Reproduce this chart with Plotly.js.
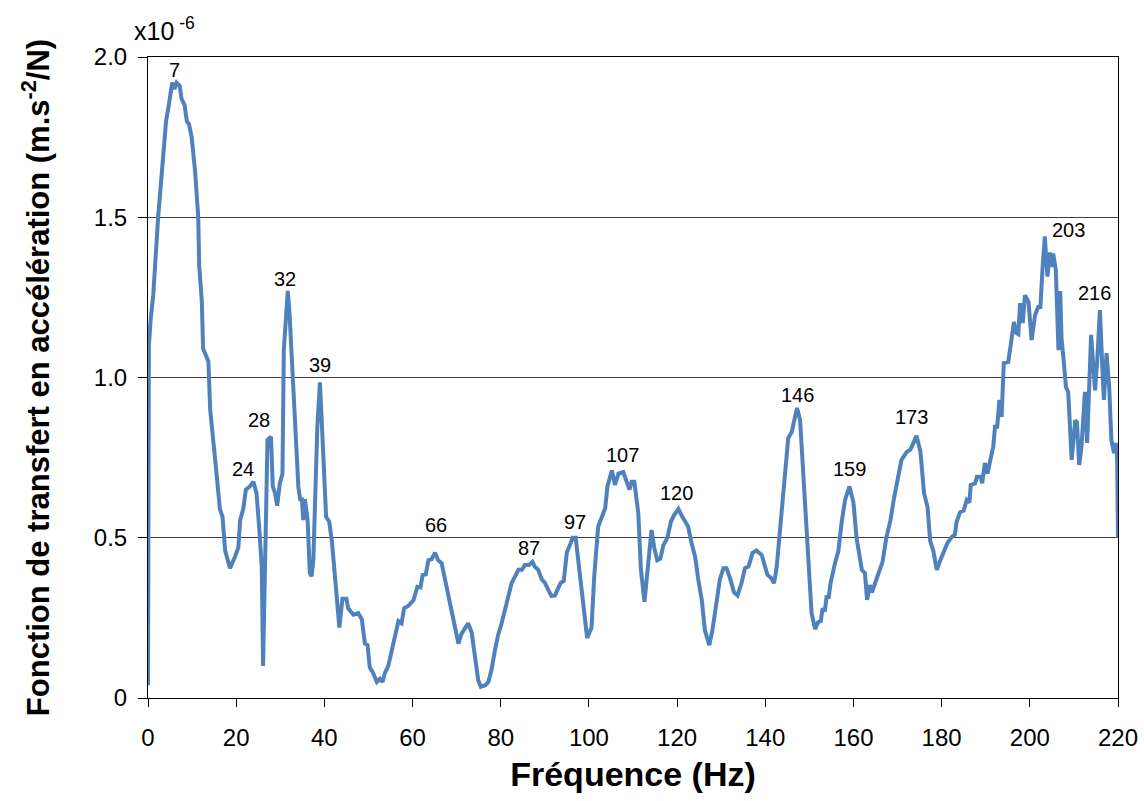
<!DOCTYPE html>
<html>
<head>
<meta charset="utf-8">
<script src="https://cdn.plot.ly/plotly-3.0.1.min.js"></script>
<style>html,body{margin:0;padding:0;background:#fff;}#chart{width:1144px;height:801px;}</style>
</head>
<body>
<div id="chart"></div>
<script>
// Frequency (Hz)
const freq = [
0,0.2,0.6,1.2,2.3,3.1,3.7,4.1,4.6,5.2,5.5,6.0,6.5,7.2,7.6,8.3,8.8,9.3,9.9,10.7,
11.4,11.6,12.2,12.5,13.7,14.1,15.2,15.4,16.3,16.9,17.5,18.6,19.7,20.5,20.9,21.6,22.2,23.1,23.9,24.6,
25.2,25.8,26.1,26.6,27.1,27.9,28.3,28.8,29.3,29.9,30.5,30.8,31.3,31.7,32.1,32.6,33.1,34.1,34.5,34.9,
35.2,35.6,36.2,36.7,37.1,37.5,37.9,38.4,39.0,39.4,39.8,40.4,41.1,41.7,42.4,43.4,44.1,45.0,45.4,46.6,
47.7,48.5,49.2,49.8,50.3,51.0,51.9,52.6,53.2,53.7,54.5,55.3,56.0,56.8,57.5,58.1,59.0,60.2,61.1,61.8,
62.3,63.0,63.6,64.3,65.1,65.8,66.6,67.4,68.1,68.9,69.6,70.4,71.1,71.9,72.6,73.4,74.2,74.9,75.5,76.5,
77.2,77.9,78.7,79.4,80.2,81.0,81.7,82.5,83.2,84.0,84.8,85.5,86.4,87.2,87.7,88.5,89.3,90.0,90.8,91.5,
92.3,93.1,93.6,94.3,95.0,95.7,96.3,97.0,97.8,98.7,99.6,100.6,101.2,102.1,102.9,103.7,104.2,105.2,105.9,106.7,
107.8,108.6,109.2,109.7,110.3,111.2,111.8,112.6,113.5,114.2,114.8,115.5,116.2,116.9,117.8,118.6,119.3,120.3,121.0,121.8,
122.5,123.3,124.1,124.8,125.6,126.3,127.3,128.0,128.8,129.7,130.5,131.2,132.0,132.9,133.7,134.6,135.4,136.2,137.1,138.0,
139.2,139.9,140.5,141.3,142.0,142.6,143.2,143.7,144.5,145.2,146.0,146.7,147.2,147.9,148.3,149.0,150.0,150.5,151.3,152.0,
152.6,153.0,153.5,153.9,154.4,154.8,155.8,156.6,157.3,158.1,159.1,160.0,160.7,161.3,161.9,162.6,163.1,163.7,164.2,164.9,
165.6,166.6,167.5,168.4,169.2,170.2,170.9,172.1,172.9,173.6,174.3,175.2,176.0,176.8,177.4,178.1,178.9,179.7,180.4,181.3,
182.3,183.0,183.4,184.2,185.0,185.7,186.3,186.6,187.6,188.0,188.8,189.2,189.8,190.4,191.0,191.7,192.1,192.6,193.1,193.6,
194.1,195.1,195.6,196.4,197.0,197.4,197.8,198.4,198.9,199.7,200.4,201.2,201.9,202.4,202.9,203.4,204.0,204.6,205.0,205.3,
205.9,206.5,206.9,207.2,207.6,208.2,208.7,209.5,210.3,210.7,211.2,211.7,212.5,213.0,213.9,214.4,214.8,215.3,215.9,216.5,
216.8,217.4,218.0,218.5,219.1,219.5,219.8,220
];
// Transfer function amplitude (x1e-6 m.s^-2/N)
const amp = [
0.04,1.10,1.18,1.26,1.50,1.64,1.75,1.80,1.84,1.90,1.92,1.90,1.92,1.91,1.87,1.85,1.80,1.79,1.75,1.64,
1.50,1.35,1.24,1.09,1.05,0.90,0.77,0.72,0.59,0.565,0.46,0.405,0.44,0.47,0.555,0.59,0.65,0.66,0.675,0.64,
0.535,0.41,0.10,0.40,0.805,0.815,0.66,0.64,0.60,0.67,0.70,1.085,1.20,1.27,1.20,1.085,0.93,0.66,0.62,0.62,
0.555,0.62,0.555,0.39,0.38,0.43,0.62,0.845,0.985,0.845,0.74,0.565,0.55,0.49,0.38,0.22,0.31,0.31,0.28,0.26,
0.265,0.245,0.17,0.165,0.095,0.08,0.05,0.06,0.05,0.077,0.10,0.15,0.18,0.24,0.233,0.28,0.287,0.305,0.347,0.345,
0.384,0.386,0.43,0.433,0.453,0.43,0.42,0.37,0.32,0.265,0.22,0.17,0.20,0.22,0.233,0.205,0.13,0.055,0.035,0.04,
0.05,0.087,0.15,0.196,0.233,0.28,0.32,0.36,0.378,0.40,0.40,0.415,0.415,0.425,0.41,0.40,0.37,0.36,0.337,0.318,
0.32,0.347,0.36,0.365,0.455,0.477,0.50,0.50,0.41,0.30,0.187,0.22,0.378,0.535,0.565,0.592,0.66,0.71,0.665,0.70,
0.705,0.675,0.65,0.675,0.675,0.577,0.40,0.30,0.43,0.524,0.47,0.43,0.435,0.477,0.50,0.55,0.57,0.59,0.57,0.55,
0.535,0.483,0.44,0.37,0.306,0.212,0.165,0.21,0.296,0.37,0.405,0.405,0.374,0.33,0.32,0.358,0.405,0.41,0.452,0.46,
0.446,0.41,0.384,0.375,0.358,0.41,0.50,0.607,0.71,0.81,0.83,0.867,0.905,0.867,0.78,0.607,0.42,0.265,0.215,0.237,
0.24,0.28,0.27,0.315,0.315,0.358,0.42,0.46,0.546,0.618,0.66,0.61,0.50,0.45,0.40,0.39,0.306,0.352,0.33,0.358,
0.39,0.425,0.503,0.555,0.624,0.69,0.743,0.768,0.775,0.796,0.818,0.768,0.64,0.596,0.49,0.46,0.40,0.43,0.452,0.483,
0.503,0.51,0.55,0.58,0.585,0.618,0.61,0.665,0.67,0.69,0.69,0.67,0.733,0.70,0.74,0.783,0.846,0.846,0.93,0.877,
1.045,1.048,1.095,1.173,1.138,1.135,1.232,1.17,1.257,1.236,1.117,1.195,1.22,1.22,1.345,1.44,1.315,1.39,1.345,1.387,
1.335,1.085,1.27,1.12,1.065,0.97,0.955,0.743,0.867,0.86,0.727,0.78,0.955,0.796,1.133,1.033,0.96,1.055,1.21,1.014,
0.93,1.076,0.97,0.805,0.764,0.796,0.75,0.5
];
// Peak labels
const peakText = ["7","24","28","32","39","66","87","97","107","120","146","159","173","203","216"];
const peakX = [6.1,21.6,25.2,31.1,39.0,65.3,86.5,96.8,107.6,119.9,147.4,159.2,173.2,208.7,214.6];
const peakY = [1.959,0.714,0.867,1.307,1.039,0.540,0.468,0.549,0.758,0.640,0.945,0.714,0.877,1.460,1.264];
// Axis ticks
const xTicks = [0,20,40,60,80,100,120,140,160,180,200,220];
const yTicks = [0,0.5,1.0,1.5,2.0];
const yTickText = ["0","0.5","1.0","1.5","2.0"];

const FONT = "Liberation Sans, Arial, sans-serif";

const annotations = peakText.map((t,i)=>({
  x: peakX[i], y: peakY[i], xref:'x', yref:'y', text: t, showarrow:false,
  xanchor:'center', yanchor:'middle', font:{family:FONT, size:20, color:'#000'}
}));
annotations.push({
  xref:'paper', yref:'paper', x:-0.017, y:1.0, xanchor:'left', yanchor:'bottom', yshift:10,
  text:'x10<sup> -6</sup>', showarrow:false, font:{family:FONT, size:25, color:'#000'}
});

Plotly.newPlot('chart', [{
  x: freq, y: amp, type:'scatter', mode:'lines',
  line:{color:'#4F81BD', width:4, shape:'linear'},
  hoverinfo:'x+y'
}], {
  width:1144, height:801,
  margin:{l:148, r:26, t:57, b:103},
  paper_bgcolor:'#fff', plot_bgcolor:'#fff',
  showlegend:false,
  font:{family:FONT, color:'#000'},
  xaxis:{
    range:[0,220], tickvals:xTicks, ticktext:xTicks.map(String),
    ticks:'outside', ticklen:8, tickcolor:'#000', tickwidth:1,
    showline:true, linecolor:'#000', linewidth:1, mirror:true,
    showgrid:false, zeroline:false,
    tickfont:{family:FONT, size:24, color:'#000'},
    ticklabelstandoff:10,
    title:{text:'<b>Fréquence (Hz)</b>', font:{family:FONT, size:34, color:'#000'}, standoff:12}
  },
  yaxis:{
    range:[0,2.0], tickvals:yTicks, ticktext:yTickText,
    ticks:'outside', ticklen:9, tickcolor:'#000', tickwidth:1,
    showline:true, linecolor:'#000', linewidth:1, mirror:true,
    showgrid:true, gridcolor:'#404040', gridwidth:1, zeroline:false,
    tickfont:{family:FONT, size:24, color:'#000'},
    ticklabelstandoff:6,
    title:{text:'<b>Fonction de transfert en accélération (m.s<sup>-2</sup>/N)</b>', font:{family:FONT, size:31, color:'#000'}, standoff:34}
  },
  annotations: annotations
}, {displayModeBar:false, staticPlot:true});
</script>
</body>
</html>
